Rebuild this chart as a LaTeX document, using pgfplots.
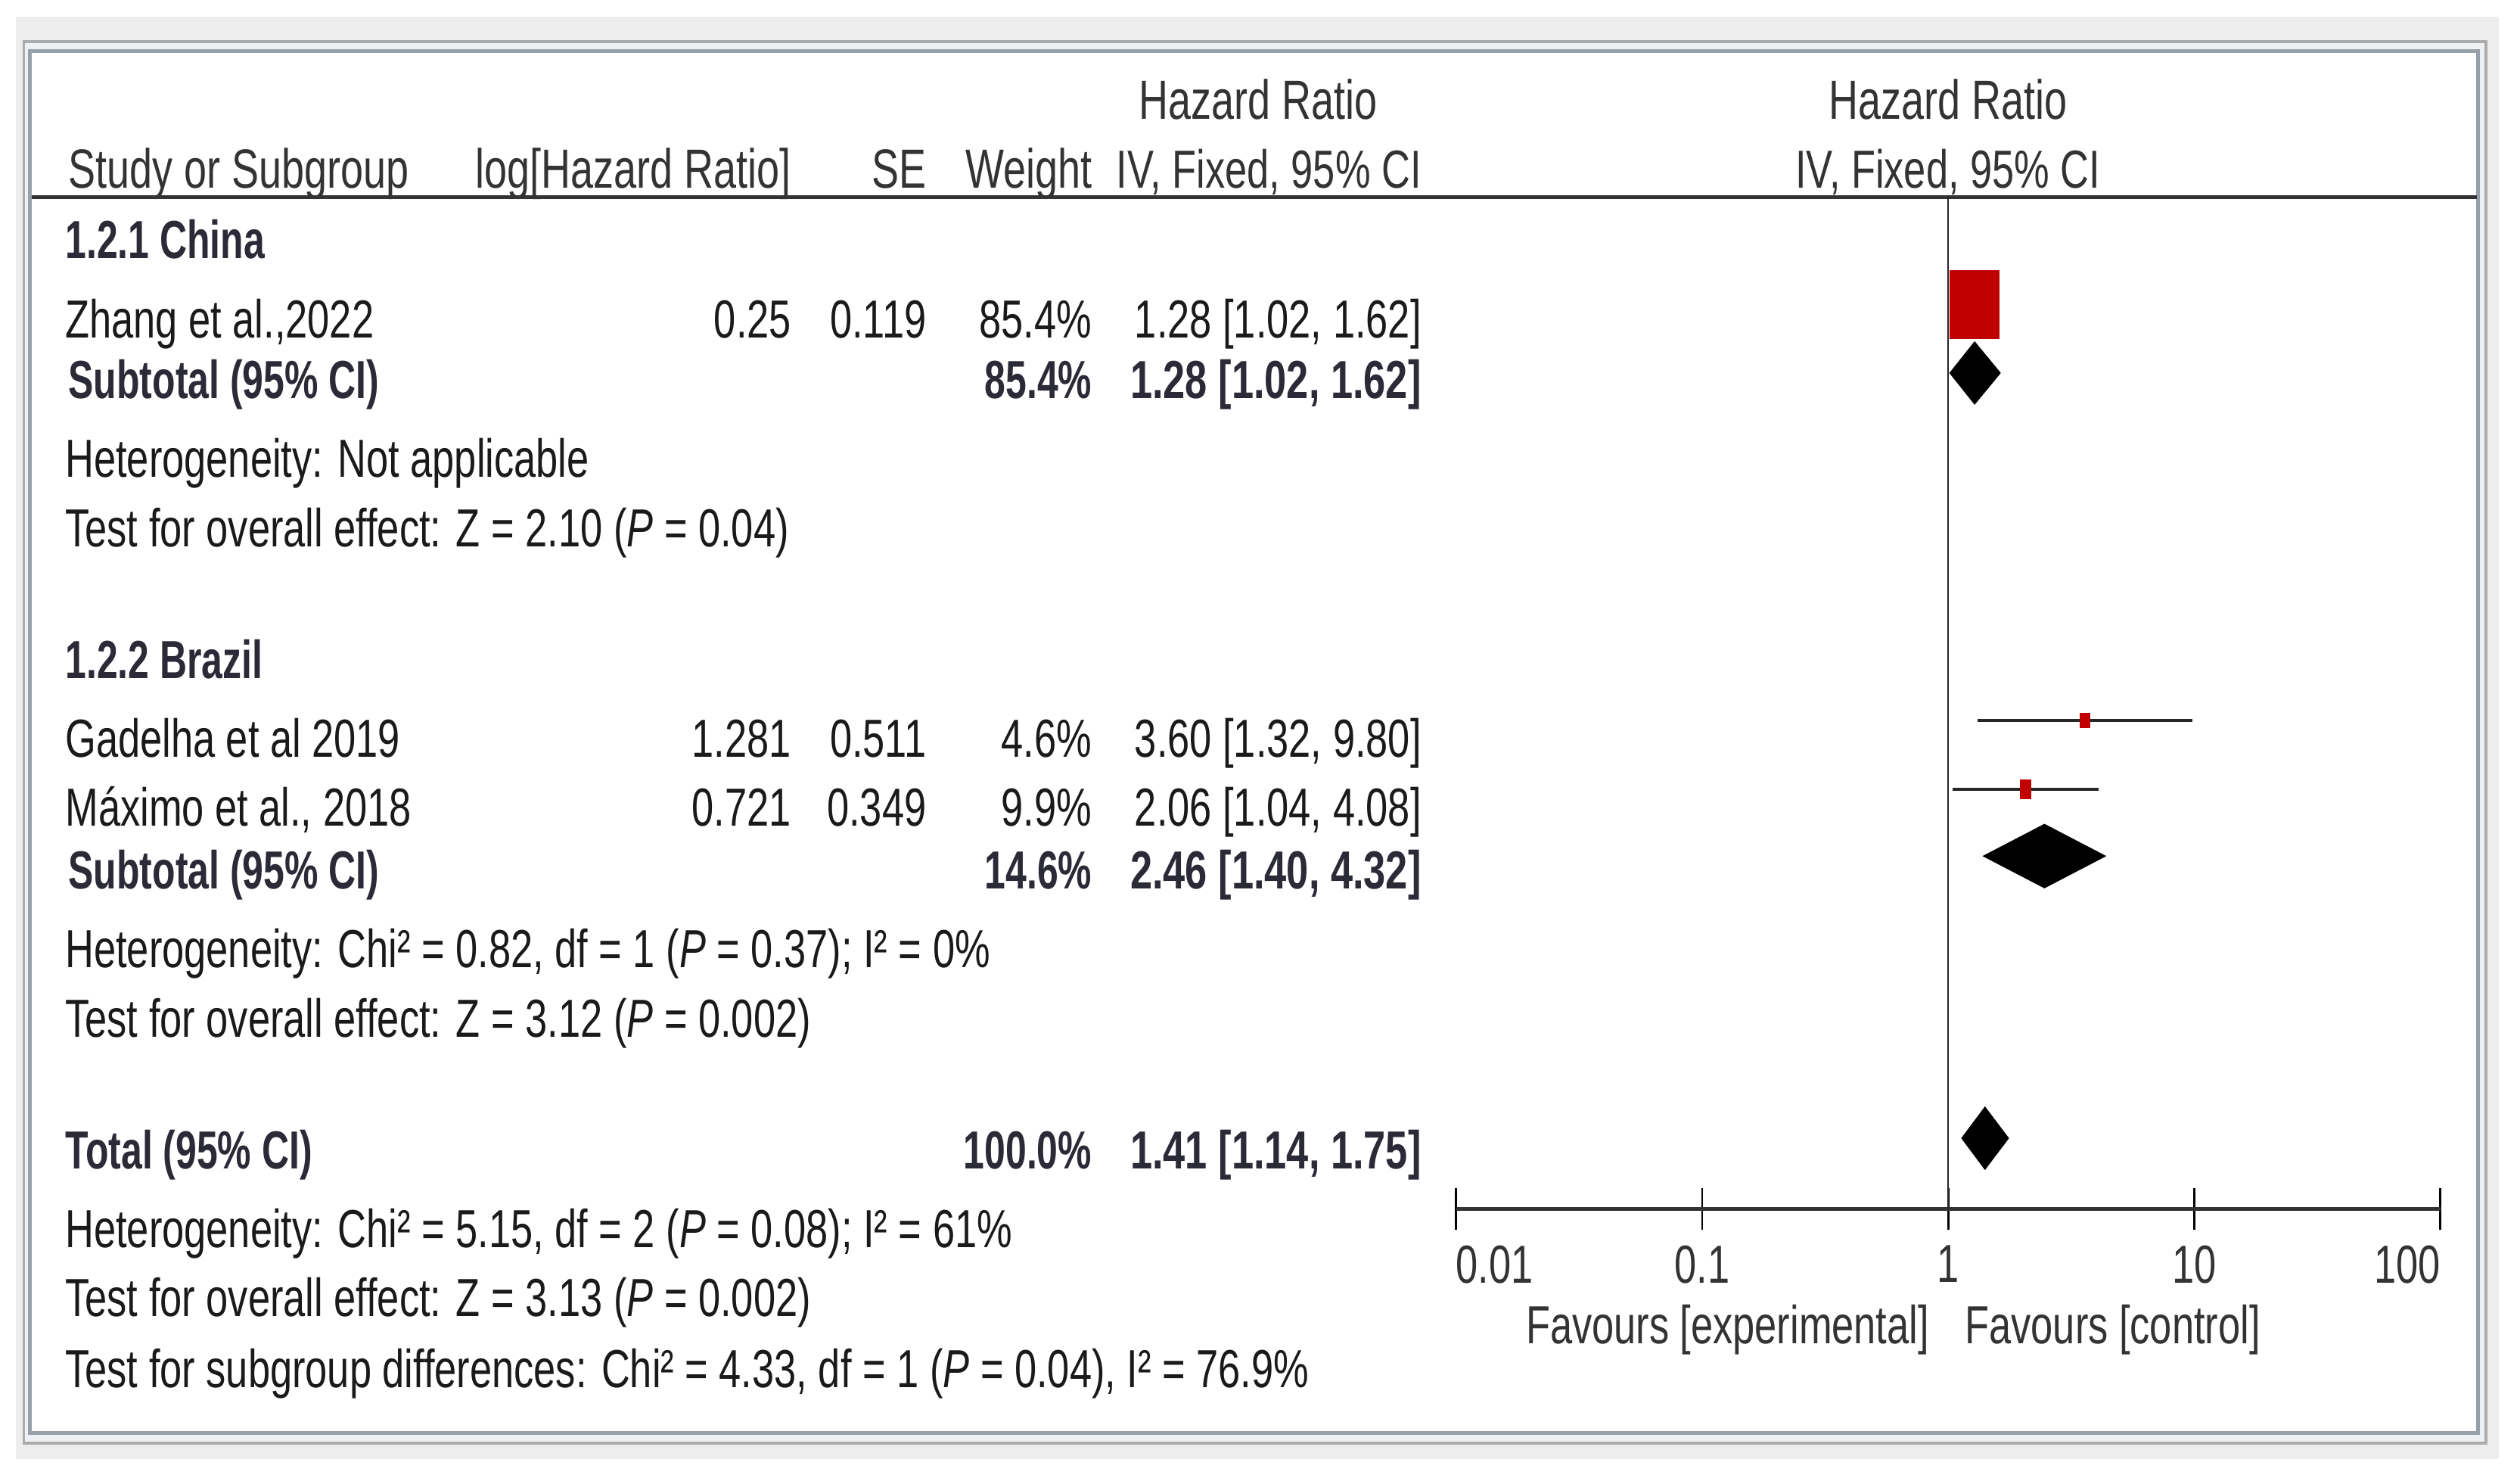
\documentclass[border=0pt]{standalone}
\usepackage{fontspec}
\setmainfont{Liberation Sans}[FakeStretch=0.74, BoldFeatures={FakeStretch=0.705}]
\newfontfamily\bwide{Liberation Sans}[FakeStretch=0.74]
\usepackage{pgfplots}
\pgfplotsset{compat=1.18}
\definecolor{bggray}{HTML}{EDEDED}
\definecolor{frameA}{HTML}{ABABAB}
\definecolor{frameB}{HTML}{97A0A9}
\definecolor{frameC}{HTML}{EEF1F4}
\definecolor{txt}{HTML}{1A1A1A}
\definecolor{bld}{HTML}{2B2B38}
\definecolor{hdr}{HTML}{333333}
\definecolor{rmred}{HTML}{C00000}
\newcommand{\fs}{\fontsize{10}{12}\selectfont}
\newcommand{\fh}{\fontsize{10.3}{12}\selectfont}
\begin{document}
\begin{tikzpicture}
\begin{scope}[x=0.3pt,y=0.3pt]
\path (0,0) rectangle (1568,921);
% background and frame
\fill[bggray] (10,13.3) rectangle (1555,910.6);
\filldraw[fill=frameC, draw=frameA, line width=0.54pt] (14.8,23.5) rectangle (1546.8,895);
\filldraw[fill=white, draw=frameB, line width=0.66pt] (18.6,29.8) rectangle (1542,889.2);
% header rule
\draw[hdr, line width=0.75pt] (20,798.5) -- (1541,798.5);

\begin{scope}[every node/.style={font=\fs, inner sep=0pt, text=txt}]
% headers
\begin{scope}[every node/.append style={font=\fh, text=hdr}]
\node[anchor=base] at (783,847) {Hazard Ratio};
\node[anchor=base] at (1212,847) {Hazard Ratio};
\node[anchor=base west] at (42,804) {Study or Subgroup};
\node[anchor=base east] at (493,804) {log[Hazard Ratio]};
\node[anchor=base east] at (577,804) {SE};
\node[anchor=base east] at (680,804) {Weight};
\node[anchor=base east, font=\fs] at (885,804) {IV, Fixed, 95\% CI};
\node[anchor=base, font=\fs] at (1212,804) {IV, Fixed, 95\% CI};
\end{scope}
% China
\node[anchor=base west, text=bld] at (40,760) {\bfseries 1.2.1 China};
\node[anchor=base west] at (40,711) {Zhang et al.,2022};
\node[anchor=base east] at (493,711) {0.25};
\node[anchor=base east] at (577,711) {0.119};
\node[anchor=base east] at (680,711) {85.4\%};
\node[anchor=base east] at (885,711) {1.28 [1.02, 1.62]};
\node[anchor=base west, text=bld] at (42,673) {\bfseries Subtotal (95\% CI)};
\node[anchor=base east, text=bld] at (680,673) {\bfseries 85.4\%};
\node[anchor=base east, text=bld] at (885,673) {\bwide\bfseries 1.28 [1.02, 1.62]};
\node[anchor=base west] at (40,624) {Heterogeneity: Not applicable};
\node[anchor=base west] at (40,581) {Test for overall effect: Z = 2.10 (\textit{P} = 0.04)};
% Brazil
\node[anchor=base west, text=bld] at (40,499) {\bfseries 1.2.2 Brazil};
\node[anchor=base west] at (40,450) {Gadelha et al 2019};
\node[anchor=base east] at (493,450) {1.281};
\node[anchor=base east] at (577,450) {0.511};
\node[anchor=base east] at (680,450) {4.6\%};
\node[anchor=base east] at (885,450) {3.60 [1.32, 9.80]};
\node[anchor=base west] at (40,407) {Máximo et al., 2018};
\node[anchor=base east] at (493,407) {0.721};
\node[anchor=base east] at (577,407) {0.349};
\node[anchor=base east] at (680,407) {9.9\%};
\node[anchor=base east] at (885,407) {2.06 [1.04, 4.08]};
\node[anchor=base west, text=bld] at (42,368) {\bfseries Subtotal (95\% CI)};
\node[anchor=base east, text=bld] at (680,368) {\bfseries 14.6\%};
\node[anchor=base east, text=bld] at (885,368) {\bwide\bfseries 2.46 [1.40, 4.32]};
\node[anchor=base west] at (40,319) {Heterogeneity: Chi² = 0.82, df = 1 (\textit{P} = 0.37); I² = 0\%};
\node[anchor=base west] at (40,276) {Test for overall effect: Z = 3.12 (\textit{P} = 0.002)};
% Total
\node[anchor=base west, text=bld] at (40,194) {\bfseries Total (95\% CI)};
\node[anchor=base east, text=bld] at (680,194) {\bfseries 100.0\%};
\node[anchor=base east, text=bld] at (885,194) {\bwide\bfseries 1.41 [1.14, 1.75]};
\node[anchor=base west] at (40,145) {Heterogeneity: Chi² = 5.15, df = 2 (\textit{P} = 0.08); I² = 61\%};
\node[anchor=base west] at (40,102) {Test for overall effect: Z = 3.13 (\textit{P} = 0.002)};
\node[anchor=base west] at (40,58) {Test for subgroup differences: Chi² = 4.33, df = 1 (\textit{P} = 0.04), I² = 76.9\%};
% favours
\node[anchor=base east, text=hdr] at (1201,85) {Favours [experimental]};
\node[anchor=base west, text=hdr] at (1222,85) {Favours [control]};
\end{scope}
\end{scope}

\begin{axis}[
  at={(271.8pt,50.7pt)}, anchor=south west,
  scale only axis, width=183.75pt, height=189pt,
  xmode=log, log basis x=10,
  xmin=0.01, xmax=100, ymin=169, ymax=799,
  clip=false,
  hide y axis,
  axis x line*=bottom,
  x axis line style={-, draw=black!80, line width=0.8pt},
  xminorticks=false,
  xtick={0.01,0.1,1,10,100},
  xticklabels={\makebox[0pt][l]{0.01},0.1,1,10,\makebox[0pt][r]{100}},
  tick align=center,
  major tick length=7.8pt,
  tick style={black, line width=0.4pt},
  xticklabel style={font=\fs, text=hdr, inner sep=0pt, anchor=north, yshift=-2.7pt},
]
% line of no effect
\addplot[black!85, line width=0.35pt] coordinates {(1,169) (1,799)};
% Zhang (CI hidden under square)
\addplot[black!85, line width=0.6pt] coordinates {(1.02,731.5) (1.62,731.5)};
\addplot[fill=rmred, draw=none] coordinates {(1.01,753) (1.62,753) (1.62,710) (1.01,710)} -- cycle;
% China subtotal diamond
\addplot[fill=black, draw=black, line width=0.3pt] coordinates {(1.02,689) (1.28,708) (1.62,689) (1.28,670)} -- cycle;
% Gadelha
\addplot[black!85, line width=0.6pt] coordinates {(1.32,473) (9.80,473)};
\addplot[fill=rmred, draw=none] coordinates {(3.43,477.7) (3.78,477.7) (3.78,468.3) (3.43,468.3)} -- cycle;
% Maximo
\addplot[black!85, line width=0.6pt] coordinates {(1.04,430) (4.08,430)};
\addplot[fill=rmred, draw=none] coordinates {(1.95,436) (2.18,436) (2.18,424) (1.95,424)} -- cycle;
% Brazil subtotal diamond
\addplot[fill=black, draw=black, line width=0.3pt] coordinates {(1.40,388.5) (2.46,408) (4.32,388.5) (2.46,369)} -- cycle;
% Total diamond
\addplot[fill=black, draw=black, line width=0.3pt] coordinates {(1.14,213) (1.41,232) (1.75,213) (1.41,194)} -- cycle;
\end{axis}
\end{tikzpicture}
\end{document}
